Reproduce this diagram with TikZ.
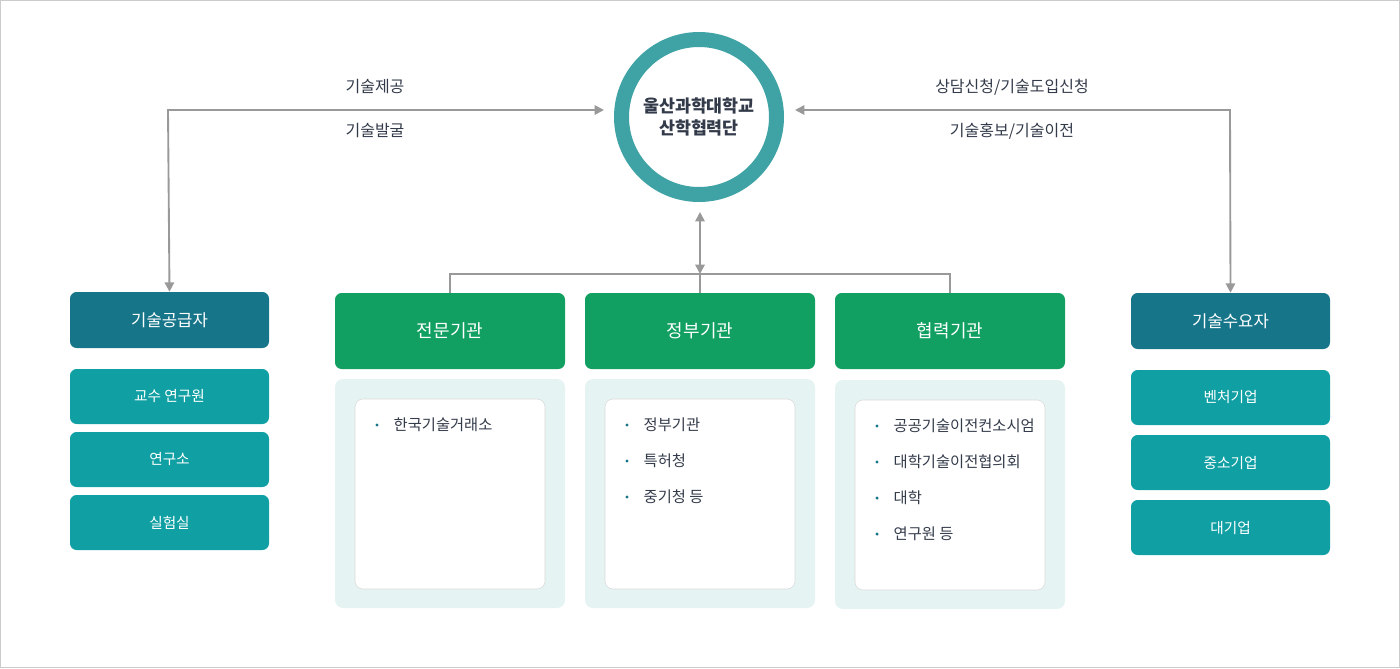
\documentclass[tikz,border=0pt]{standalone}
\usepackage{fontspec}
\setmainfont{Noto Sans CJK KR}
\usepackage{tikz}
\usetikzlibrary{arrows.meta}
\definecolor{ringc}{HTML}{3FA3A5}
\definecolor{headc}{HTML}{17758A}
\definecolor{itemc}{HTML}{10A0A4}
\definecolor{greenc}{HTML}{12A062}
\definecolor{panelc}{HTML}{E6F3F3}
\definecolor{linec}{HTML}{999999}
\definecolor{textc}{HTML}{333B4A}
\tikzset{>={Triangle[length=7pt,width=7pt]}}
\tikzset{
  box/.style={rectangle, rounded corners=5pt, inner sep=0pt, text=white},
  head/.style={box, fill=headc, minimum width=149.25pt, minimum height=42pt, font=\fontsize{12.5}{14}\selectfont},
  item/.style={box, fill=itemc, minimum width=149.25pt, minimum height=41.25pt, font=\fontsize{11}{13}\selectfont},
  org/.style={box, fill=greenc, minimum width=172.5pt, minimum height=57pt, font=\fontsize{13.5}{15}\selectfont},
  lbl/.style={text=textc, font=\fontsize{12}{14}\selectfont},
  bul/.style={anchor=west, text=textc, font=\fontsize{11.5}{13}\selectfont},
  link/.style={linec, line width=1.4pt},
}
\newcommand{\bulitem}[3]{%
  \fill[headc] (#1-12,#2) circle (1.3pt);
  \node[bul] at (#1,#2) {#3};}
\begin{document}
\begin{tikzpicture}[x=0.75pt,y=-0.75pt]
  \useasboundingbox (0,0) rectangle (1400,668);
  \draw[black!20] (0.5,0.5) rectangle (1399.5,667.5);

  % centre ring
  \draw[ringc, line width=11.25pt] (699,117) circle (77.5);
  \node (C) [circle, minimum size=190pt, text=textc, align=center,
    font=\fontsize{13}{17}\selectfont\bfseries] at (699,117) {울산과학대학교\\산학협력단};

  % left and right side columns
  \node (S) [head] at (169.5,320) {기술공급자};
  \node (S1) [item] at (169.5,396.5) {교수 연구원};
  \node (S2) [item] at (169.5,459.5) {연구소};
  \node (S3) [item] at (169.5,522.5) {실험실};

  \node (D) [head] at (1230.5,321) {기술수요자};
  \node (D1) [item] at (1230.5,397.5) {벤처기업};
  \node (D2) [item] at (1230.5,462.5) {중소기업};
  \node (D3) [item] at (1230.5,527.5) {대기업};

  % middle organisations
  \node (A) [org] at (450,331) {전문기관};
  \node (B) [org] at (700,331) {정부기관};
  \node (E) [org] at (950,331) {협력기관};

  \foreach \x/\y in {450/379, 700/379, 950/380} {
    \fill[panelc, rounded corners=6pt] (\x-115,\y) rectangle (\x+115,\y+229);
    \filldraw[fill=white, draw=black!15, rounded corners=6pt] (\x-95,\y+20) rectangle (\x+95,\y+210);
  }
  \bulitem{389}{425}{한국기술거래소}
  \bulitem{639}{425}{정부기관}
  \bulitem{639}{461}{특허청}
  \bulitem{639}{497}{중기청 등}
  \bulitem{889}{426}{공공기술이전컨소시엄}
  \bulitem{889}{462}{대학기술이전협의회}
  \bulitem{889}{498}{대학}
  \bulitem{889}{534}{연구원 등}

  % connectors
  \coordinate (L) at (168,110);
  \coordinate (R) at (1230,110);
  \draw[link, <->] (S.north) -- (L) -- (604,110);
  \draw[link, <->] (D.north) -- (R) -- (795,110);
  \node[lbl] at (375,87) {기술제공};
  \node[lbl] at (375,131) {기술발굴};
  \node[lbl] at (1012,87) {상담신청/기술도입신청};
  \node[lbl] at (1012,131) {기술홍보/기술이전};

  \coordinate (M) at (700,274);
  \draw[link] (A.north) |- (M) -| (E.north);
  \draw[link] (M) -- (B.north);
  \draw[link, <->] (700,212) -- (M);
\end{tikzpicture}
\end{document}
